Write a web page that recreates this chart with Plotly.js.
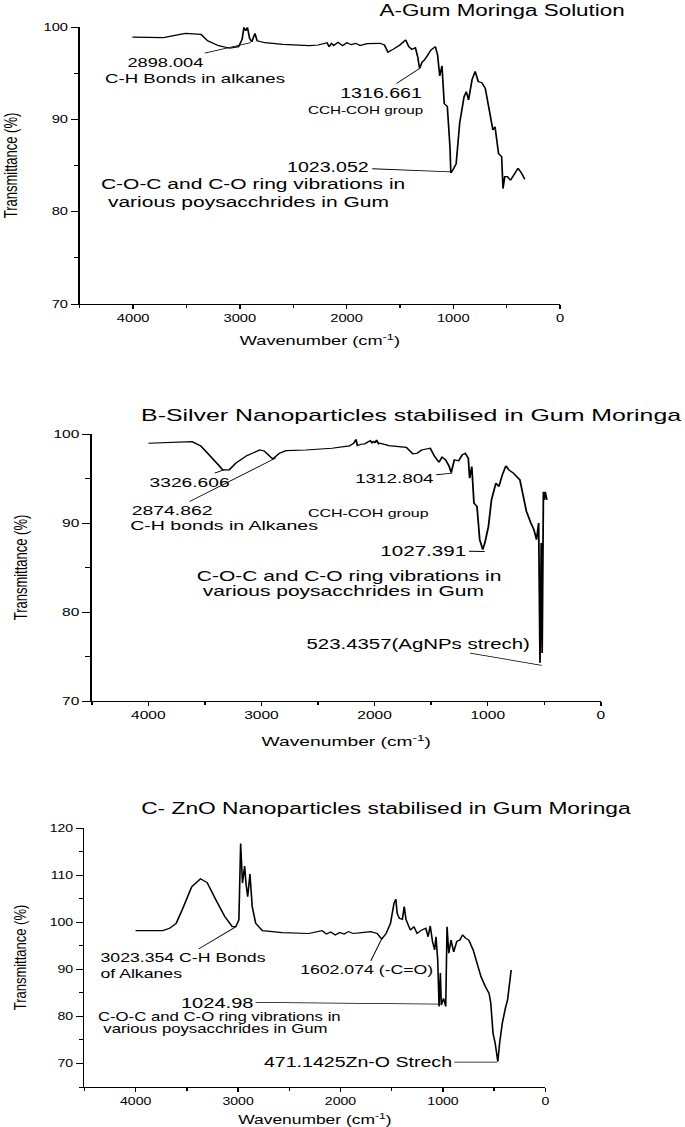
<!DOCTYPE html>
<html>
<head>
<meta charset="utf-8">
<script src="https://cdn.plot.ly/plotly-3.0.1.min.js"></script>
<style>
  html, body { margin: 0; padding: 0; background: #fff; overflow: hidden; width: 685px; height: 1127px; }
  .panel { position: absolute; left: 0; transform-origin: 0 0; }
</style>
</head>
<body>
<div id="panelA" class="panel"></div>
<div id="panelB" class="panel"></div>
<div id="panelC" class="panel"></div>
<script>
// FTIR spectra (wavenumber cm-1, transmittance %)
const waveA = [4007, 3717, 3510, 3364, 3302, 3199, 3095, 3012, 2979, 2962, 2945, 2929, 2909, 2888, 2859, 2838, 2764, 2598, 2349, 2266,
  2183, 2163, 2142, 2121, 2080, 2038, 1997, 1956, 1914, 1873, 1810, 1686, 1645, 1612, 1562, 1500, 1446, 1417, 1388, 1355,
  1334, 1316, 1292, 1272, 1239, 1210, 1168, 1147, 1127, 1106, 1085, 1056, 1031, 1023, 1000, 973, 940, 899, 878, 857,
  824, 795, 766, 733, 700, 659, 629, 609, 576, 547, 534, 518, 493, 464, 422, 393, 360, 330];
const transA = [98.9, 98.85, 99.3, 99.2, 98.5, 97.98, 97.7, 97.87, 98.66, 99.96, 99.6, 99.96, 98.77, 98.4, 99.3, 98.5, 98.3, 98.12, 97.98, 98.05,
  98.3, 97.87, 98.23, 98.0, 98.34, 97.98, 98.3, 98.09, 98.23, 98.0, 98.2, 98.23, 98.05, 97.26, 97.6, 98.05, 98.6, 97.87, 97.58, 97.76,
  96.8, 95.5, 96.2, 96.4, 96.97, 97.5, 97.87, 96.97, 94.7, 95.8, 91.7, 91.4, 87.0, 84.2, 84.6, 85.2, 89.6, 92.45, 93.0, 92.1,
  94.3, 95.2, 94.1, 93.97, 93.36, 91.0, 88.85, 89.2, 86.3, 85.95, 82.5, 83.8, 83.8, 83.4, 84.3, 84.7, 84.15, 83.5];

const waveB = [3999, 3768, 3613, 3536, 3459, 3381, 3343, 3285, 3227, 3130, 3015, 2976, 2918, 2899, 2841, 2783, 2609, 2377, 2223, 2184,
  2165, 2152, 2120, 2087, 2060, 2037, 2022, 2010, 1995, 1983, 1965, 1952, 1875, 1720, 1662, 1624, 1585, 1508, 1469, 1431,
  1404, 1373, 1342, 1323, 1295, 1257, 1226, 1199, 1172, 1160, 1141, 1122, 1095, 1071, 1044, 1025, 994, 967, 928, 902,
  871, 840, 813, 774, 716, 685, 658, 619, 592, 569, 550, 538, 527, 519, 508, 500, 492, 477];
const transB = [98.96, 99.03, 99.14, 98.66, 97.65, 96.53, 95.97, 95.97, 96.72, 97.57, 98.2, 98.1, 97.4, 97.2, 97.84, 98.13, 98.2, 98.4, 98.66, 98.96,
  99.4, 98.7, 98.85, 98.88, 99.1, 99.25, 98.95, 99.2, 99.0, 99.33, 98.9, 98.96, 98.7, 98.5, 97.76, 97.84, 98.2, 98.4, 97.46, 96.83,
  97.4, 97.1, 96.4, 95.67, 97.1, 97.0, 97.65, 97.84, 97.28, 95.04, 96.34, 92.24, 91.87, 88.13, 87.0, 87.8, 89.6, 92.6, 94.48, 94.1,
  95.4, 96.42, 95.97, 95.6, 94.85, 92.6, 91.3, 90.0, 89.25, 88.13, 90.0, 74.3, 87.76, 75.4, 93.5, 92.6, 93.5, 92.6];

const waveC = [4001, 3734, 3669, 3604, 3540, 3453, 3367, 3302, 3216, 3130, 3057, 3022, 2992, 2975, 2957, 2936, 2923, 2906, 2884, 2862,
  2828, 2763, 2569, 2310, 2181, 2138, 2095, 2051, 2008, 1965, 1922, 1879, 1793, 1706, 1642, 1598, 1555, 1512, 1478, 1460,
  1447, 1426, 1396, 1378, 1361, 1340, 1318, 1283, 1253, 1210, 1167, 1145, 1124, 1102, 1081, 1068, 1051, 1038, 1025, 1016,
  994, 973, 960, 943, 921, 895, 865, 835, 809, 779, 748, 705, 662, 628, 585, 550, 533, 511, 490, 464,
  447, 421, 391, 369, 334];
const transC = [98.2, 98.2, 98.7, 99.76, 102.9, 107.5, 109.2, 108.4, 104.7, 101.2, 99.05, 99.05, 100.5, 116.7, 108.3, 111.9, 108.3, 105.4, 110.2, 103.3,
  99.76, 98.2, 97.8, 97.6, 98.2, 97.5, 97.9, 97.3, 97.8, 97.5, 98.0, 97.6, 97.8, 98.0, 97.6, 96.4, 97.6, 99.76, 104.0, 104.9,
  101.9, 100.8, 100.6, 103.3, 100.6, 99.4, 98.3, 99.05, 97.6, 98.3, 98.7, 96.9, 99.2, 95.9, 94.1, 96.9, 92.0, 82.1, 89.2, 82.4,
  83.8, 82.1, 99.05, 93.4, 96.2, 93.7, 95.9, 96.2, 97.3, 96.6, 96.2, 94.1, 90.6, 88.4, 86.3, 84.9, 82.8, 76.4, 74.3, 70.4,
  74.3, 78.5, 81.7, 83.5, 89.85];

const titles = [
  'A-Gum Moringa Solution',
  'B-Silver Nanoparticles stabilised in Gum Moringa',
  'C- ZnO Nanoparticles stabilised in Gum Moringa',
];
const xTicks = [4000, 3000, 2000, 1000, 0];
const xMinor = [4500, 3500, 2500, 1500, 500];
const yTicksAB = [70, 80, 90, 100];
const yMinorAB = [75, 85, 95];
const yTicksC = [70, 80, 90, 100, 110, 120];
const yMinorC = [65, 75, 85, 95, 105, 115];

const FONT = '"Liberation Sans", Arial, sans-serif';

function label(text, x, y, size, tipX, tipY) {
  const a = { text, x, y, xref: 'x', yref: 'y', showarrow: false, font: { family: FONT, size, color: '#000' } };
  if (tipX !== undefined) {
    Object.assign(a, {
      x: tipX, y: tipY, ax: x, ay: y, axref: 'x', ayref: 'y',
      showarrow: true, arrowhead: 0, arrowwidth: 0.8, arrowcolor: '#000', standoff: 0,
    });
  }
  return a;
}

// each panel of the original figure is stretched sideways by its own factor
function drawPanel(id, opt) {
  const el = document.getElementById(id);
  const w = 685 / opt.stretch;
  el.style.top = opt.top + 'px';
  el.style.width = w + 'px';
  el.style.height = opt.height + 'px';
  el.style.transform = `scaleX(${opt.stretch})`;

  const data = [{
    type: 'scatter', mode: 'lines', x: opt.x, y: opt.y,
    line: { color: '#000', width: 1.2 }, hoverinfo: 'skip',
  }];

  const layout = {
    width: w, height: opt.height,
    margin: opt.margin,
    paper_bgcolor: '#fff', plot_bgcolor: '#fff',
    font: { family: FONT, color: '#000' },
    showlegend: false,
    title: {
      text: opt.title, font: { size: opt.titleSize, color: '#000' },
      xref: 'container', yref: 'container', x: opt.titleX, xanchor: opt.titleAnchor, y: opt.titleY, yanchor: 'middle',
    },
    xaxis: {
      range: [4500, 0], tickmode: 'array', tickvals: xTicks, ticks: 'outside', ticklen: 4, tickwidth: 1, tickcolor: '#000',
      minor: { tickmode: 'array', tickvals: xMinor, ticks: 'outside', ticklen: 3, tickwidth: 1, tickcolor: '#000' },
      showline: true, linecolor: '#000', linewidth: 1.3, showgrid: false, zeroline: false,
      tickfont: { size: 10.5, color: '#000' },
      title: { text: 'Wavenumber (cm<sup>-1</sup>)', font: { size: 13, color: '#000' }, standoff: opt.xStandoff },
    },
    yaxis: {
      range: opt.yRange, tickmode: 'array', tickvals: opt.yTicks, ticks: 'outside', ticklen: 5, tickwidth: 1, tickcolor: '#000',
      minor: { tickmode: 'array', tickvals: opt.yMinor, ticks: 'outside', ticklen: 3, tickwidth: 1, tickcolor: '#000' },
      showline: true, linecolor: '#000', linewidth: 1.3, showgrid: false, zeroline: false,
      tickfont: { size: 10.5, color: '#000' },
      title: { text: 'Transmittance (%)', font: { size: 13, color: '#000' }, standoff: opt.yStandoff },
    },
    annotations: opt.notes,
  };

  Plotly.newPlot(el, data, layout, { displayModeBar: false, staticPlot: true });
}

drawPanel('panelA', {
  top: 0, height: 360, stretch: 1.4, margin: { l: 57, r: 89, t: 27, b: 56 },
  x: waveA, y: transA, yRange: [70, 100], yTicks: yTicksAB, yMinor: yMinorAB, xStandoff: 13, yStandoff: 17,
  title: titles[0], titleSize: 16, titleX: 0.733, titleAnchor: 'center', titleY: 0.972,
  notes: [
    label('2898.004', 3703, 96.2, 13, 2898.004, 98.3),
    label('C-H Bonds in alkanes', 3422, 94.4, 13.3),
    label('1316.661', 1669, 92.85, 14, 1316.661, 95.5),
    label('CCH-COH group', 1828, 91.0, 10.9),
    label('1023.052', 2166, 84.84, 14, 1023.052, 84.3),
    label('C-O-C and C-O ring vibrations in', 2878, 83.0, 15),
    label('various poysacchrides in Gum', 2925, 81.05, 15),
  ],
});

drawPanel('panelB', {
  top: 360, height: 400, stretch: 1.48, margin: { l: 62, r: 57, t: 74, b: 59 },
  x: waveB, y: transB, yRange: [70, 100], yTicks: yTicksAB, yMinor: yMinorAB, xStandoff: 17, yStandoff: 14,
  title: titles[1], titleSize: 16.8, titleX: 0.206, titleAnchor: 'left', titleY: 0.8625,
  notes: [
    label('3326.606', 3642, 94.6, 13, 3326.606, 96.0),
    label('2874.862', 3793, 91.4, 13.1, 2874.862, 97.3),
    label('C-H bonds in Alkanes', 3324, 89.7, 13.2),
    label('CCH-COH group', 2060, 91.15, 10.8),
    label('1312.804', 1821, 94.96, 12.7, 1312.804, 95.6),
    label('1027.391', 1565, 86.9, 13.9, 1027.391, 86.8),
    label('C-O-C and C-O ring vibrations in', 2219, 83.99, 14.2),
    label('various poysacchrides in Gum', 2272, 82.4, 14.2),
    label('523.4357(AgNPs strech)', 1618, 76.4, 13.8, 523.4357, 74.0),
  ],
});

drawPanel('panelC', {
  top: 760, height: 367, stretch: 1.34, margin: { l: 63, r: 104, t: 68, b: 40 },
  x: waveC, y: transC, yRange: [65, 120], yTicks: yTicksC, yMinor: yMinorC, xStandoff: 10, yStandoff: 14,
  title: titles[2], titleSize: 17, titleX: 0.5634, titleAnchor: 'center', titleY: 0.869,
  notes: [
    label('3023.354 C-H Bonds', 3534, 92.4, 13.2, 3023.354, 99.0),
    label('of Alkanes', 3944, 89.2, 13.2),
    label('1602.074 (-C=O)', 1747, 89.85, 13.2, 1602.074, 96.3),
    label('1024.98', 3202, 83.05, 15, 1024.98, 82.6),
    label('C-O-C and C-O ring vibrations in', 3182, 79.9, 12.5),
    label('various poysacchrides in Gum', 3221, 77.3, 12.5),
    label('471.1425Zn-O Strech', 1825, 70.3, 14.6, 471.1425, 70.3),
  ],
});
</script>
</body>
</html>
